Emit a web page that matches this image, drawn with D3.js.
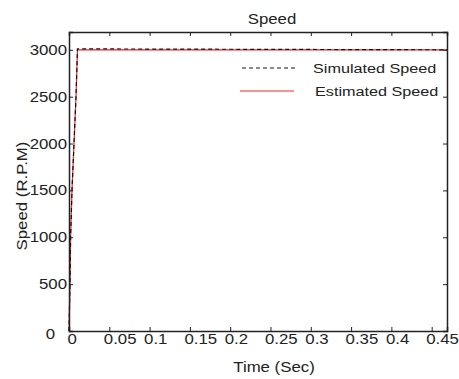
<!DOCTYPE html>
<html>
<head>
<meta charset="utf-8">
<script src="https://cdn.jsdelivr.net/npm/d3@7"></script>
<style>
  body { margin: 0; background: #fff; }
  svg text { font-family: "Liberation Sans", Arial, sans-serif; fill: #222; }
</style>
</head>
<body>
<div id="chart"></div>
<script>
const timeSec = [0, 0.0012, 0.002, 0.0037, 0.0062, 0.0087, 0.0105, 0.47];
const simulatedSpeed = [0, 500, 1000, 1500, 2000, 2500, 3010, 3000];
const estimatedSpeed = [0, 500, 1000, 1500, 2000, 2500, 3000, 3000];
const xTicks = [0, 0.05, 0.1, 0.15, 0.2, 0.25, 0.3, 0.35, 0.4, 0.45];
const xTickLabels = ['0', '0.05', '0.1', '0.15', '0.2', '0.25', '0.3', '0.35', '0.4', '0.45'];
const yTicks = [0, 500, 1000, 1500, 2000, 2500, 3000];
const seriesNames = ['Simulated Speed', 'Estimated Speed'];

const width = 459, height = 379;
const margin = { top: 32, right: 12, bottom: 48, left: 69 };
const w = width - margin.left - margin.right;
const h = height - margin.top - margin.bottom;
const stretchX = 1.2; // the source text is wider than it is tall

const svgRoot = d3.select('#chart').append('svg').attr('width', width).attr('height', height);
const g = svgRoot.append('g').attr('transform', `translate(${margin.left},${margin.top})`);

// move x/y into a transform so the text can be widened around its anchor
function stretch(sel) {
  sel.each(function () {
    const t = d3.select(this);
    const tx = +t.attr('x') || 0, ty = +t.attr('y') || 0;
    t.attr('x', 0).attr('y', 0).attr('transform', `translate(${tx},${ty}) scale(${stretchX},1)`);
  });
}

const x = d3.scaleLinear().domain([0, 0.469]).range([0, w]);
const y = d3.scaleLinear().domain([0, 3190]).range([h, 0]);

// lines
const line = d3.line().x((d, i) => x(timeSec[i])).y(d => y(d));
g.append('path').datum(estimatedSpeed)
  .attr('d', line).attr('fill', 'none').attr('stroke', '#ff2020').attr('stroke-width', 1.2);
g.append('path').datum(simulatedSpeed)
  .attr('d', line).attr('fill', 'none').attr('stroke', '#111').attr('stroke-width', 1.2)
  .attr('stroke-dasharray', '4,3');

// axes with inward ticks
const xAxis = d3.axisBottom(x).tickValues(xTicks).tickSize(-4).tickFormat((d, i) => xTickLabels[i]);
const gx = g.append('g').attr('transform', `translate(0,${h})`).call(xAxis);
gx.selectAll('text').attr('dy', '0.3em').attr('y', 9).attr('text-anchor', 'start')
  .attr('x', d => (d === 0 ? -2 : -6)).style('font-size', '14px');
stretch(gx.selectAll('text'));

const yAxis = d3.axisLeft(y).tickValues(yTicks).tickSize(-4).tickFormat(d3.format('d'));
const gy = g.append('g').call(yAxis);
gy.selectAll('text').attr('x', -2).style('font-size', '14px');
gy.selectAll('.tick').filter(d => d === 0).select('text').attr('x', -14).attr('dy', '0.55em');
stretch(gy.selectAll('text'));

g.append('g').call(d3.axisTop(x).tickValues(xTicks).tickSize(-4).tickFormat(''));
g.append('g').attr('transform', `translate(${w},0)`)
  .call(d3.axisRight(y).tickValues(yTicks).tickSize(-4).tickFormat(''));

g.selectAll('.domain').attr('stroke', '#222').attr('stroke-width', 1.5);
g.selectAll('.tick line').attr('stroke', '#222');

// title and labels
const labels = svgRoot.append('g').style('font-size', '14px');
labels.append('text').attr('x', 272).attr('y', 24).attr('text-anchor', 'middle').text('Speed');
labels.append('text').attr('x', 274).attr('y', 372).attr('text-anchor', 'middle').text('Time (Sec)');
stretch(labels.selectAll('text'));
svgRoot.append('text').attr('transform', `translate(27,196) rotate(-90) scale(${stretchX},1)`)
  .attr('text-anchor', 'middle').style('font-size', '14px').text('Speed (R.P.M)');

// legend
const legend = svgRoot.append('g');
legend.append('line').attr('x1', 242).attr('x2', 297).attr('y1', 68).attr('y2', 68)
  .attr('stroke', '#111').attr('stroke-dasharray', '4,3');
legend.append('line').attr('x1', 240).attr('x2', 294).attr('y1', 91).attr('y2', 91)
  .attr('stroke', '#ff2020').attr('stroke-width', 1.2);
legend.append('text').attr('x', 313).attr('y', 73).style('font-size', '13.5px').text(seriesNames[0]);
legend.append('text').attr('x', 315).attr('y', 96).style('font-size', '13.5px').text(seriesNames[1]);
stretch(legend.selectAll('text'));
</script>
</body>
</html>
